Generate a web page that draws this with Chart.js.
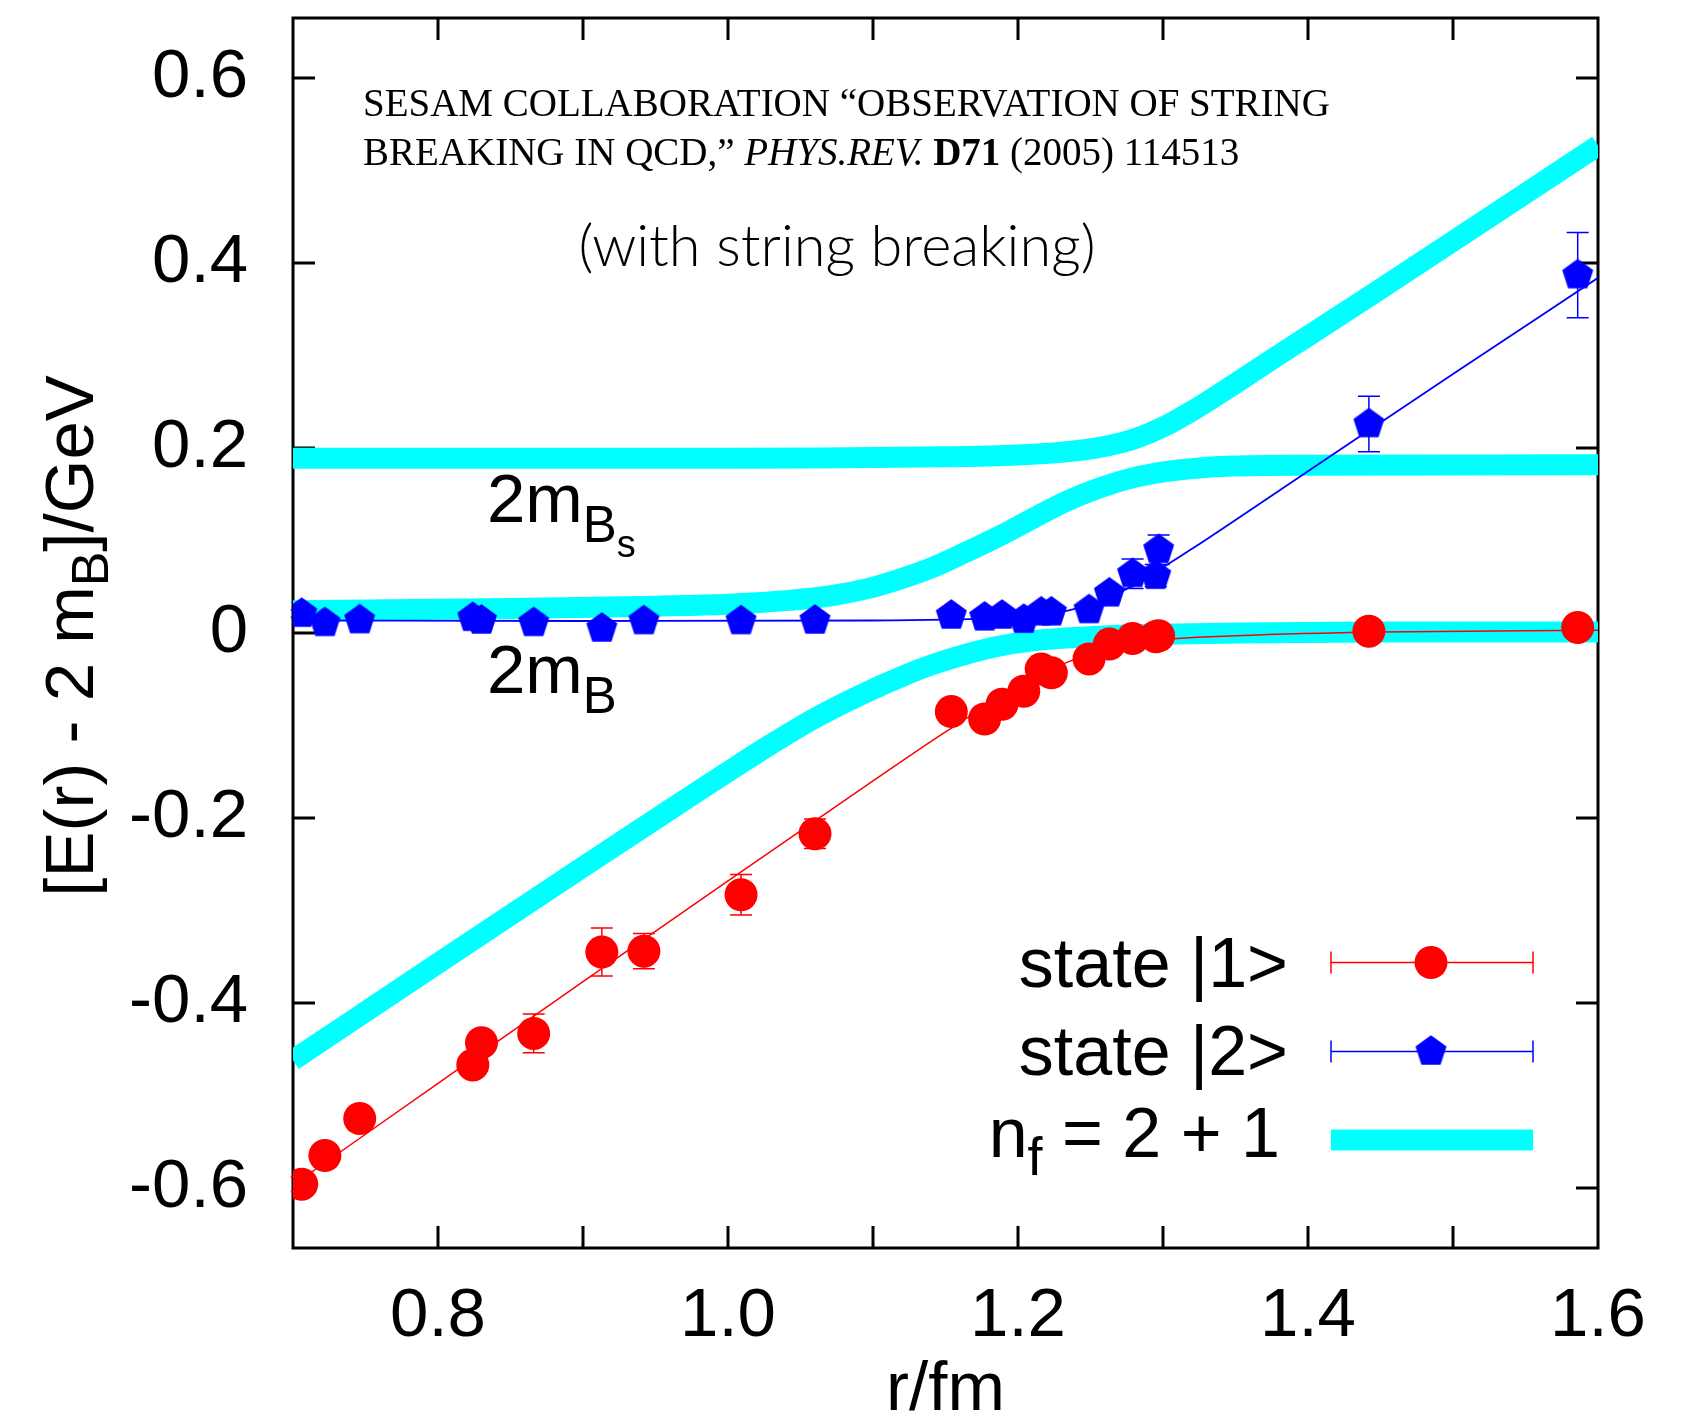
<!DOCTYPE html>
<html>
<head>
<meta charset="utf-8">
<script src="https://cdn.jsdelivr.net/npm/chart.js@4.4.0/dist/chart.umd.min.js"></script>
<style>
  html, body { margin: 0; padding: 0; background: #fff; }
  canvas { display: block; }
</style>
</head>
<body>
<canvas id="myChart" width="1690" height="1422"></canvas>
<script>
// r values shared by both lattice states
const rValues = [0.706, 0.722, 0.746, 0.824, 0.830, 0.866, 0.913, 0.942, 1.009, 1.060,
  1.154, 1.177, 1.189, 1.204, 1.216, 1.223, 1.249, 1.263, 1.279, 1.295, 1.297, 1.442, 1.586];

const state1 = [-0.596, -0.565, -0.525, -0.467, -0.443, -0.433, -0.345, -0.344, -0.283, -0.217,
  -0.085, -0.093, -0.077, -0.063, -0.039, -0.043, -0.028, -0.012, -0.006, -0.004, -0.003, 0.002, 0.006];
const state1Err = [0.008, 0.008, 0.008, 0.010, 0.010, 0.021, 0.026, 0.019, 0.022, 0.016,
  0.010, 0.008, 0.008, 0.008, 0.008, 0.008, 0.006, 0.006, 0.006, 0.006, 0.006, 0.004, 0.004];

const state2 = [0.021, 0.011, 0.014, 0.0165, 0.0136, 0.011, 0.005, 0.013, 0.013, 0.0136,
  0.019, 0.017, 0.019, 0.0145, 0.0225, 0.0225, 0.025, 0.043, 0.064, 0.062, 0.090, 0.226, 0.387];
const state2Err = [0.004, 0.004, 0.004, 0.004, 0.004, 0.004, 0.004, 0.004, 0.004, 0.004,
  0.004, 0.004, 0.004, 0.004, 0.004, 0.004, 0.006, 0.008, 0.016, 0.012, 0.016, 0.030, 0.046];

// fit curves through the two states
const fit1X = [0.70, 0.80, 0.90, 1.00, 1.10, 1.15, 1.20, 1.235, 1.26, 1.28, 1.31, 1.35, 1.45, 1.60];
const fit1Y = [-0.597, -0.487, -0.377, -0.268, -0.160, -0.107, -0.058, -0.031, -0.019, -0.012, -0.006, -0.003, 0.001, 0.003];
const fit2X = [0.70, 0.90, 1.10, 1.15, 1.20, 1.22, 1.235, 1.25, 1.265, 1.28, 1.30, 1.32, 1.40, 1.50, 1.60];
const fit2Y = [0.0135, 0.013, 0.0135, 0.0145, 0.017, 0.020, 0.0245, 0.031, 0.040, 0.052, 0.071, 0.091, 0.175, 0.280, 0.384];

// n_f = 2 + 1 levels
const lowX = [0.70, 0.80, 0.90, 0.96, 1.00, 1.03, 1.06, 1.0955, 1.12, 1.1414, 1.165, 1.1874, 1.21, 1.2334, 1.27, 1.35, 1.45, 1.60];
const lowY = [-0.462, -0.357, -0.253, -0.191, -0.150, -0.120, -0.092, -0.064, -0.047, -0.034, -0.0225, -0.014, -0.0085, -0.0055, -0.0025, 0.0, 0.001, 0.001];
const midX = [0.70, 0.85, 0.95, 1.00, 1.04, 1.07, 1.0955, 1.12, 1.1414, 1.1644, 1.1874, 1.2104, 1.2334, 1.2563, 1.2784, 1.3016, 1.325, 1.3477, 1.40, 1.60];
const midY = [0.024, 0.0265, 0.029, 0.031, 0.035, 0.040, 0.0477, 0.059, 0.071, 0.0875, 0.105, 0.124, 0.1425, 0.157, 0.1675, 0.1745, 0.1785, 0.1805, 0.1815, 0.182];
const highX = [0.70, 1.00, 1.15, 1.20, 1.2334, 1.2553, 1.2784, 1.3016, 1.3247, 1.3477, 1.3708, 1.40, 1.45, 1.60];
const highY = [0.189, 0.189, 0.1905, 0.1925, 0.196, 0.2005, 0.209, 0.224, 0.2445, 0.2675, 0.2915, 0.321, 0.372, 0.527];

const xLabelTicks = [0.8, 1.0, 1.2, 1.4, 1.6];
const xTickMarks = [0.8, 0.9, 1.0, 1.1, 1.2, 1.3, 1.4, 1.5];
const yTicks = [-0.6, -0.4, -0.2, 0, 0.2, 0.4, 0.6];

const RED = '#ff0000', BLUE = '#0000ff', CYAN = '#00ffff';
const SANS = '"Liberation Sans", Arial, sans-serif';
const SERIF = '"Liberation Serif", "Times New Roman", serif';

function pts(xs, ys) { return xs.map((x, i) => ({ x: x, y: ys[i] })); }

function pentagon(color, r) {
  const c = document.createElement('canvas');
  const s = Math.ceil(r * 2 + 4);
  c.width = s; c.height = s;
  const g = c.getContext('2d');
  g.fillStyle = color;
  g.beginPath();
  for (let k = 0; k < 5; k++) {
    const a = -Math.PI / 2 + k * 2 * Math.PI / 5;
    g.lineTo(s / 2 + r * Math.cos(a), s / 2 + r * Math.sin(a));
  }
  g.closePath();
  g.fill();
  return c;
}
const bluePentagon = pentagon(BLUE, 16.3);

// draw a row of text pieces (for sub/superscripts and mixed styles)
function runs(ctx, x, y, parts) {
  parts.forEach(p => {
    ctx.font = p.f;
    ctx.fillText(p.t, x, y + (p.dy || 0));
    x += ctx.measureText(p.t).width;
  });
  return x;
}
function runsWidth(ctx, parts) {
  let w = 0;
  parts.forEach(p => { ctx.font = p.f; w += ctx.measureText(p.t).width; });
  return w;
}

const framePlugin = {
  id: 'framePlugin',
  beforeDatasetsDraw(chart) {
    const { ctx, chartArea: a, scales: { x, y } } = chart;
    ctx.save();
    ctx.strokeStyle = '#000';
    ctx.lineWidth = 3;
    ctx.strokeRect(a.left, a.top, a.right - a.left, a.bottom - a.top);
    ctx.beginPath();
    xTickMarks.forEach(v => {
      const px = x.getPixelForValue(v);
      ctx.moveTo(px, a.bottom); ctx.lineTo(px, a.bottom - 22);
      ctx.moveTo(px, a.top); ctx.lineTo(px, a.top + 22);
    });
    yTicks.forEach(v => {
      const py = y.getPixelForValue(v);
      ctx.moveTo(a.left, py); ctx.lineTo(a.left + 22, py);
      ctx.moveTo(a.right, py); ctx.lineTo(a.right - 22, py);
    });
    ctx.stroke();
    ctx.restore();
  },
  beforeDatasetDraw(chart, args) {
    const ds = chart.data.datasets[args.index];
    if (!ds.errors) return;
    const { ctx, scales: { x, y } } = chart;
    ctx.save();
    ctx.strokeStyle = ds.errColor;
    ctx.lineWidth = 1.5;
    ctx.beginPath();
    ds.data.forEach((p, i) => {
      const px = x.getPixelForValue(p.x);
      const y1 = y.getPixelForValue(p.y + ds.errors[i]);
      const y2 = y.getPixelForValue(p.y - ds.errors[i]);
      ctx.moveTo(px, y1); ctx.lineTo(px, y2);
      ctx.moveTo(px - 11, y1); ctx.lineTo(px + 11, y1);
      ctx.moveTo(px - 11, y2); ctx.lineTo(px + 11, y2);
    });
    ctx.stroke();
    ctx.restore();
  },
  afterDraw(chart) {
    const { ctx, chartArea: a } = chart;
    ctx.save();
    ctx.fillStyle = '#000';
    ctx.textBaseline = 'alphabetic';
    ctx.textAlign = 'left';

    // axis titles
    ctx.font = '69px ' + SANS;
    ctx.textAlign = 'center';
    ctx.fillText('r/fm', (a.left + a.right) / 2, 1410);
    ctx.textAlign = 'left';

    const yTitle = [
      { t: '[E(r) - 2 m', f: '69px ' + SANS },
      { t: 'B', f: '52px ' + SANS, dy: 15 },
      { t: ']/GeV', f: '69px ' + SANS }
    ];
    ctx.save();
    ctx.translate(93, 636);
    ctx.rotate(-Math.PI / 2);
    runs(ctx, -runsWidth(ctx, yTitle) / 2, 0, yTitle);
    ctx.restore();

    // citation
    runs(ctx, 363, 116, [{ t: 'SESAM COLLABORATION \u201COBSERVATION OF STRING', f: '39px ' + SERIF }]);
    runs(ctx, 363, 165, [
      { t: 'BREAKING IN QCD,\u201D ', f: '39px ' + SERIF },
      { t: 'PHYS.REV.', f: 'italic 39px ' + SERIF },
      { t: ' ', f: '39px ' + SERIF },
      { t: 'D71', f: 'bold 39px ' + SERIF },
      { t: ' (2005) 114513', f: '39px ' + SERIF }
    ]);

    ctx.font = '300 50px Lato, ' + SANS;
    const note = '(with string breaking)';
    const size = 50 * 517 / ctx.measureText(note).width;
    ctx.font = '300 ' + size.toFixed(1) + 'px Lato, ' + SANS;
    ctx.textAlign = 'center';
    ctx.fillText(note, 837, 266);
    ctx.textAlign = 'left';

    // level labels
    runs(ctx, 487, 522, [
      { t: '2m', f: '69px ' + SANS },
      { t: 'B', f: '51px ' + SANS, dy: 20 },
      { t: 's', f: '38px ' + SANS, dy: 35 }
    ]);
    runs(ctx, 487, 693, [
      { t: '2m', f: '69px ' + SANS },
      { t: 'B', f: '51px ' + SANS, dy: 20 }
    ]);

    // legend
    const lx0 = 1331, lx1 = 1533, lxm = 1431;
    ctx.textAlign = 'right';
    ctx.font = '70px ' + SANS;
    ctx.fillText('state |1>', 1288, 987);
    ctx.fillText('state |2>', 1288, 1075);
    ctx.textAlign = 'left';
    const nf = [
      { t: 'n', f: '70px ' + SANS },
      { t: 'f', f: '54px ' + SANS, dy: 18 },
      { t: ' = 2 + 1', f: '70px ' + SANS }
    ];
    runs(ctx, 1280 - runsWidth(ctx, nf), 1157, nf);

    [[962.5, RED], [1051.5, BLUE]].forEach(([ly, col]) => {
      ctx.strokeStyle = col;
      ctx.lineWidth = 1.5;
      ctx.beginPath();
      ctx.moveTo(lx0, ly); ctx.lineTo(lx1, ly);
      ctx.moveTo(lx0, ly - 11); ctx.lineTo(lx0, ly + 11);
      ctx.moveTo(lx1, ly - 11); ctx.lineTo(lx1, ly + 11);
      ctx.stroke();
    });
    ctx.fillStyle = RED;
    ctx.beginPath();
    ctx.arc(lxm, 962.5, 16.5, 0, Math.PI * 2);
    ctx.fill();
    ctx.drawImage(bluePentagon, lxm - bluePentagon.width / 2, 1051.5 - bluePentagon.height / 2);
    ctx.fillStyle = CYAN;
    ctx.fillRect(lx0, 1129.5, lx1 - lx0, 21);
    ctx.restore();
  }
};

const tickFont = { family: 'Liberation Sans', size: 69 };

function levelLine(label, xs, ys) {
  return {
    label: label,
    data: pts(xs, ys),
    showLine: true,
    borderColor: CYAN,
    borderWidth: 21,
    borderJoinStyle: 'round',
    pointRadius: 0,
    cubicInterpolationMode: 'monotone'
  };
}

new Chart(document.getElementById('myChart').getContext('2d'), {
  type: 'scatter',
  data: {
    datasets: [
      {
        label: 'state |1>',
        data: pts(rValues, state1),
        errors: state1Err,
        errColor: RED,
        pointStyle: 'circle',
        pointRadius: 16.5,
        pointBorderWidth: 0,
        backgroundColor: RED,
        borderColor: RED
      },
      {
        label: 'state |2>',
        data: pts(rValues, state2),
        errors: state2Err,
        errColor: BLUE,
        pointStyle: bluePentagon,
        pointRadius: 17,
        backgroundColor: BLUE,
        borderColor: BLUE
      },
      {
        label: 'fit 1',
        data: pts(fit1X, fit1Y),
        showLine: true,
        borderColor: RED,
        borderWidth: 1.5,
        pointRadius: 0,
        cubicInterpolationMode: 'monotone'
      },
      {
        label: 'fit 2',
        data: pts(fit2X, fit2Y),
        showLine: true,
        borderColor: BLUE,
        borderWidth: 1.8,
        pointRadius: 0,
        cubicInterpolationMode: 'monotone'
      },
      levelLine('n_f = 2 + 1', highX, highY),
      levelLine('n_f = 2 + 1 (mid)', midX, midY),
      levelLine('n_f = 2 + 1 (low)', lowX, lowY)
    ]
  },
  options: {
    responsive: false,
    animation: false,
    devicePixelRatio: 1,
    layout: { padding: { left: 0, top: 15, right: 92, bottom: 0 } },
    plugins: { legend: { display: false }, tooltip: { enabled: false } },
    scales: {
      x: {
        type: 'linear',
        min: 0.7,
        max: 1.6,
        grid: { display: false, drawTicks: false },
        border: { display: false },
        ticks: {
          font: tickFont,
          color: '#000',
          padding: 28,
          maxRotation: 0,
          autoSkip: false,
          callback: v => v.toFixed(1)
        },
        afterBuildTicks: s => { s.ticks = xLabelTicks.map(v => ({ value: v })); },
        afterFit: s => {
          s.height = 174;
          s.paddingLeft = 0; s.paddingRight = 0; s.paddingTop = 0; s.paddingBottom = 0;
        }
      },
      y: {
        type: 'linear',
        min: -0.665,
        max: 0.665,
        grid: { display: false, drawTicks: false },
        border: { display: false },
        ticks: {
          font: tickFont,
          color: '#000',
          padding: 45,
          autoSkip: false,
          callback: v => (Math.abs(v) < 1e-9 ? '0' : v.toFixed(1))
        },
        afterBuildTicks: s => { s.ticks = yTicks.map(v => ({ value: v })); },
        afterFit: s => {
          s.width = 293;
          s.paddingLeft = 0; s.paddingRight = 0; s.paddingTop = 0; s.paddingBottom = 0;
        }
      }
    }
  },
  plugins: [framePlugin]
});
</script>
</body>
</html>
